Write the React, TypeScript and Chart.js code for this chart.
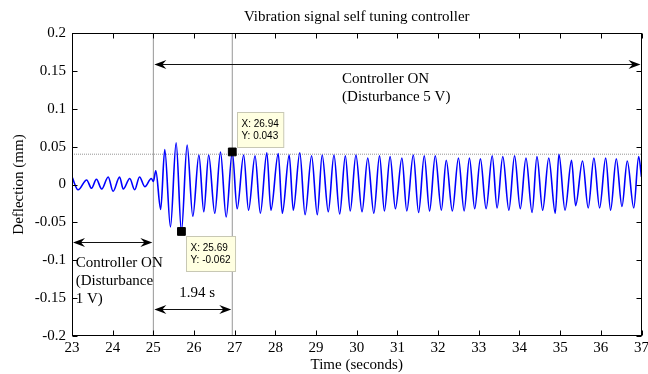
import React, { useEffect, useRef } from "react";
import { Chart, registerables } from "chart.js";

Chart.register(...registerables);

const chartTitle = "Vibration signal self tuning controller";
const xAxisTitle = "Time (seconds)";
const yAxisTitle = "Deflection (mm)";

const xTickValues = [23, 24, 25, 26, 27, 28, 29, 30, 31, 32, 33, 34, 35, 36, 37];
const xTickLabels = ["23", "24", "25", "26", "27", "28", "29", "30", "31", "32", "33", "34", "35", "36", "37"];
const yTickValues = [-0.2, -0.15, -0.1, -0.05, 0, 0.05, 0.1, 0.15, 0.2];
const yTickLabels = ["-0.2", "-0.15", "-0.1", "-0.05", "0", "0.05", "0.1", "0.15", "0.2"];

const signalTimes = [
  23.0, 23.15, 23.36, 23.48, 23.6, 23.73, 23.89, 24.01, 24.17, 24.26, 24.42, 24.54, 24.66, 24.79, 24.95, 25.0, 25.06,
  25.18, 25.28, 25.42, 25.56, 25.69, 25.83, 25.97, 26.12, 26.24, 26.36, 26.51, 26.65, 26.79, 26.94,
  27.06, 27.22, 27.34, 27.5, 27.63, 27.79, 27.89, 28.07, 28.17, 28.34, 28.44, 28.6, 28.73, 28.89,
  29.03, 29.15, 29.3, 29.44, 29.58, 29.72, 29.84, 29.98, 30.13, 30.27, 30.42, 30.56, 30.68, 30.82,
  30.95, 31.11, 31.23, 31.39, 31.52, 31.66, 31.79, 31.93, 32.08, 32.2, 32.35, 32.5, 32.64, 32.77,
  32.9, 33.04, 33.18, 33.33, 33.45, 33.59, 33.74, 33.88, 34.02, 34.16, 34.31, 34.43, 34.57, 34.72,
  34.88, 34.97, 35.12, 35.28, 35.38, 35.55, 35.69, 35.83, 35.97, 36.12, 36.24, 36.38, 36.52, 36.65,
  36.81, 36.93, 37.0,
];
const signalValues = [
  0.01, -0.007, 0.006, -0.005, 0.007, -0.006, 0.01, -0.009, 0.01, -0.006, 0.008, -0.007, 0.01, -0.003, 0.008, 0.004, 0.018,
  -0.033, 0.046, -0.056, 0.055, -0.062, 0.052, -0.042, 0.039, -0.036, 0.039, -0.038, 0.043, -0.043, 0.043,
  -0.032, 0.039, -0.034, 0.038, -0.038, 0.042, -0.034, 0.041, -0.038, 0.039, -0.034, 0.042, -0.04, 0.038,
  -0.04, 0.039, -0.036, 0.039, -0.039, 0.038, -0.035, 0.039, -0.036, 0.035, -0.038, 0.038, -0.035, 0.037,
  -0.032, 0.035, -0.035, 0.039, -0.037, 0.038, -0.035, 0.038, -0.034, 0.032, -0.035, 0.035, -0.035, 0.035,
  -0.032, 0.034, -0.032, 0.038, -0.031, 0.037, -0.034, 0.038, -0.032, 0.035, -0.037, 0.037, -0.034, 0.035,
  -0.038, 0.04, -0.034, 0.032, -0.028, 0.031, -0.031, 0.035, -0.031, 0.035, -0.034, 0.034, -0.029, 0.031,
  -0.031, 0.037, 0.01,
];

// data tips
const tipTimes = [26.94, 25.69];
const tipValues = [0.043, -0.062];
const tipDirections = ["up", "down"];

// reference lines
const refLevel = 0.04;
const refTimes = [25, 26.94];

// double arrows
const arrowStarts = [25, 23, 25];
const arrowEnds = [37, 25, 26.94];
const arrowLevels = [0.159, -0.076, -0.164];

// text notes
const noteTexts = [
  ["Controller ON", "(Disturbance 5 V)"],
  ["Controller ON", "(Disturbance", "1 V)"],
  ["1.94 s"],
];
const noteTimes = [29.64, 23.09, 26.08];
const noteValues = [0.139, -0.104, -0.143];
const noteAligns = ["left", "left", "center"];

const SERIF = '"Liberation Serif", "Times New Roman", serif';
const SANS = '"Liberation Sans", Arial, sans-serif';

function arrowHead(ctx: CanvasRenderingContext2D, tx: number, ty: number, dir: number) {
  ctx.beginPath();
  ctx.moveTo(tx, ty);
  ctx.lineTo(tx - dir * 12, ty - 4.5);
  ctx.lineTo(tx - dir * 8, ty);
  ctx.lineTo(tx - dir * 12, ty + 4.5);
  ctx.closePath();
  ctx.fill();
}

const decorPlugin = {
  id: "decor",
  afterDraw(chart: any) {
    const { ctx, chartArea, scales } = chart;
    const { left, right, top, bottom } = chartArea;
    const xs = scales.x;
    const ys = scales.y;
    ctx.save();
    // axes box
    ctx.strokeStyle = "#000";
    ctx.lineWidth = 1;
    ctx.setLineDash([]);
    const L = Math.round(left) + 0.5;
    const R = Math.round(right) - 0.5;
    const T = Math.round(top) + 0.5;
    const B = Math.round(bottom) - 0.5;
    ctx.strokeRect(L, T, R - L, B - T);
    // inward ticks
    const tl = 5;
    ctx.beginPath();
    xs.ticks.forEach((t: any) => {
      const px = Math.round(xs.getPixelForValue(t.value)) + 0.5;
      ctx.moveTo(px, B);
      ctx.lineTo(px, B - tl);
      ctx.moveTo(px, T);
      ctx.lineTo(px, T + tl);
    });
    ys.ticks.forEach((t: any) => {
      const py = Math.round(ys.getPixelForValue(t.value)) + 0.5;
      ctx.moveTo(L, py);
      ctx.lineTo(L + tl, py);
      ctx.moveTo(R, py);
      ctx.lineTo(R - tl, py);
    });
    ctx.stroke();

    // title
    ctx.fillStyle = "#000";
    ctx.font = `15px ${SERIF}`;
    ctx.textAlign = "center";
    ctx.textBaseline = "middle";
    ctx.fillText(chartTitle, (left + right) / 2, 17);

    // arrows
    ctx.strokeStyle = "#111";
    ctx.fillStyle = "#000";
    arrowStarts.forEach((s, i) => {
      const x1 = xs.getPixelForValue(s) + 1;
      const x2 = xs.getPixelForValue(arrowEnds[i]) - 1;
      const py = Math.round(ys.getPixelForValue(arrowLevels[i])) + 0.5;
      ctx.beginPath();
      ctx.moveTo(x1 + 4, py);
      ctx.lineTo(x2 - 4, py);
      ctx.stroke();
      arrowHead(ctx, x1, py, -1);
      arrowHead(ctx, x2, py, 1);
    });

    // notes
    ctx.fillStyle = "#000";
    ctx.font = `15px ${SERIF}`;
    ctx.textBaseline = "middle";
    noteTexts.forEach((lines, i) => {
      const nx = xs.getPixelForValue(noteTimes[i]);
      const ny = ys.getPixelForValue(noteValues[i]);
      ctx.textAlign = noteAligns[i] as CanvasTextAlign;
      lines.forEach((ln, j) => ctx.fillText(ln, nx, ny + j * 18));
    });

    // data tips
    ctx.font = `10px ${SANS}`;
    tipTimes.forEach((t, i) => {
      const mx = xs.getPixelForValue(t);
      const my = ys.getPixelForValue(tipValues[i]);
      const l1 = `X: ${t}`;
      const l2 = `Y: ${tipValues[i]}`;
      const w = Math.max(ctx.measureText(l1).width, ctx.measureText(l2).width) + 9;
      const h = 35;
      const bx = Math.round(mx + 5) + 0.5;
      const by = Math.round(tipDirections[i] === "up" ? my - 5 - h : my + 5) + 0.5;
      ctx.fillStyle = "rgb(255,255,225)";
      ctx.fillRect(bx, by, w, h);
      ctx.strokeStyle = "rgb(200,200,180)";
      ctx.strokeRect(bx, by, w, h);
      ctx.fillStyle = "#000";
      ctx.textAlign = "left";
      ctx.textBaseline = "middle";
      ctx.fillText(l1, bx + 4, by + 11.5);
      ctx.fillText(l2, bx + 4, by + 24);
    });
    ctx.restore();
  },
};

export default function App() {
  const ref = useRef<HTMLCanvasElement | null>(null);
  useEffect(() => {
    if (!ref.current) return;
    const signal = signalTimes.map((t, i) => ({ x: t, y: signalValues[i] }));
    const tips = tipTimes.map((t, i) => ({ x: t, y: tipValues[i] }));
    const refDatasets = refTimes.map((t) => ({
      data: [
        { x: t, y: yTickValues[0] },
        { x: t, y: yTickValues[yTickValues.length - 1] },
      ],
      borderColor: "rgb(150,150,150)",
      borderWidth: 1,
      pointRadius: 0,
      fill: false,
      order: 3,
    }));
    const chart = new Chart(ref.current, {
      type: "line",
      data: {
        datasets: [
          {
            data: tips,
            showLine: false,
            pointStyle: "rect",
            pointRadius: 5.5,
            pointBackgroundColor: "#000",
            pointBorderColor: "#000",
            pointBorderWidth: 1,
            order: 0,
          } as any,
          {
            data: signal,
            borderColor: "#0000ff",
            borderWidth: 1.6,
            pointRadius: 0,
            cubicInterpolationMode: "monotone",
            fill: false,
            order: 1,
          },
          {
            data: [
              { x: xTickValues[0], y: refLevel },
              { x: xTickValues[xTickValues.length - 1], y: refLevel },
            ],
            borderColor: "rgb(150,150,150)",
            borderWidth: 1,
            borderDash: [1, 1],
            pointRadius: 0,
            fill: false,
            order: 2,
          },
          ...refDatasets,
        ],
      },
      options: {
        responsive: false,
        animation: false,
        events: [],
        layout: { padding: { top: 33, right: 4, left: 0, bottom: 0 } },
        plugins: {
          legend: { display: false },
          tooltip: { enabled: false },
          title: { display: false },
        },
        scales: {
          x: {
            type: "linear",
            min: xTickValues[0],
            max: xTickValues[xTickValues.length - 1],
            afterBuildTicks: (s: any) => {
              s.ticks = xTickValues.map((v) => ({ value: v }));
            },
            afterFit: (s: any) => {
              s.height = 38;
              s.paddingLeft = 0;
              s.paddingRight = 0;
            },
            ticks: {
              color: "#000",
              font: { family: SERIF, size: 15 },
              padding: 3,
              maxRotation: 0,
              autoSkip: false,
              callback: (_v: any, i: number) => xTickLabels[i],
            },
            grid: { display: false, drawTicks: false },
            border: { display: false },
            title: {
              display: true,
              text: xAxisTitle,
              color: "#000",
              font: { family: SERIF, size: 15 },
              padding: { top: 0, bottom: 0 },
            },
          },
          y: {
            type: "linear",
            min: yTickValues[0],
            max: yTickValues[yTickValues.length - 1],
            afterBuildTicks: (s: any) => {
              s.ticks = yTickValues.map((v) => ({ value: v }));
            },
            afterFit: (s: any) => {
              s.width = 72;
              s.paddingTop = 0;
              s.paddingBottom = 0;
            },
            ticks: {
              color: "#000",
              font: { family: SERIF, size: 15 },
              padding: 6,
              autoSkip: false,
              callback: (_v: any, i: number) => yTickLabels[i],
            },
            grid: { display: false, drawTicks: false },
            border: { display: false },
            title: {
              display: true,
              text: yAxisTitle,
              color: "#000",
              font: { family: SERIF, size: 15 },
              padding: { top: 10, bottom: 0 },
            },
          },
        },
      } as any,
      plugins: [decorPlugin],
    });
    return () => chart.destroy();
  }, []);
  return (
    <div style={{ position: "fixed", left: 0, top: 0, width: 648, height: 374, background: "#fff" }}>
      <canvas ref={ref} width={648} height={374} style={{ display: "block", width: 648, height: 374 }} />
    </div>
  );
}
